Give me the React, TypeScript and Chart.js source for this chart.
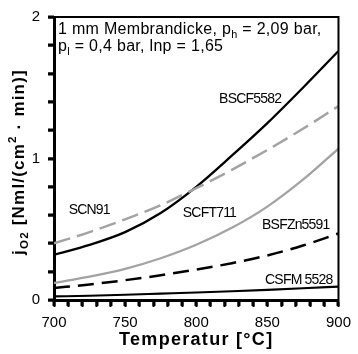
import React, { useEffect, useRef } from "react";
import { Chart, registerables } from "chart.js";
Chart.register(...registerables);

// ---- data ----
const temps = [700, 725, 750, 775, 800, 825, 850, 875, 900];
const bscf5582 = [0.32, 0.39, 0.48, 0.615, 0.8, 1.02, 1.25, 1.5, 1.76];
const scn91 = [0.40, 0.48, 0.57, 0.67, 0.79, 0.92, 1.06, 1.21, 1.37];
const scft711 = [0.12, 0.165, 0.22, 0.295, 0.39, 0.51, 0.66, 0.85, 1.07];
const bsfzn5591 = [0.085, 0.11, 0.14, 0.175, 0.215, 0.26, 0.315, 0.385, 0.47];
const csfm5528 = [0.025, 0.03, 0.037, 0.045, 0.053, 0.062, 0.072, 0.083, 0.095];

const xTickLabels = [700, 750, 800, 850, 900];
const yTickLabels = [0, 1, 2];
const xMinorStep = 10;
const yMinorStep = 0.2;

// curve label anchors (data coords, centered)
const curveLabels = [
  { text: "BSCF5582", t: 837.9, v: 1.418 },
  { text: "SCN91", t: 724.8, v: 0.632 },
  { text: "SCFT711", t: 809.3, v: 0.611 },
  { text: "BSFZn5591", t: 870.0, v: 0.526 },
  { text: "CSFM 5528", t: 872.1, v: 0.14 },
];

const FONT = "'Liberation Sans', Arial, Helvetica, sans-serif";
const GRAY = "#a3a3a3";

type Seg = { t: string; k?: "sub" | "sup" };

function drawRich(
  ctx: CanvasRenderingContext2D,
  segs: Seg[],
  x: number,
  y: number,
  size: number,
  weight: string,
  spacing: number,
  align: "left" | "center"
) {
  const setFont = (s: Seg) => {
    const sz = s.k ? size * 0.68 : size;
    ctx.font = `${weight} ${sz}px ${FONT}`;
    (ctx as any).letterSpacing = spacing + "px";
  };
  const widths = segs.map((s) => {
    setFont(s);
    return ctx.measureText(s.t).width;
  });
  const total = widths.reduce((a, b) => a + b, 0);
  let cx = align === "center" ? x - total / 2 : x;
  ctx.textAlign = "left";
  ctx.textBaseline = "middle";
  segs.forEach((s, i) => {
    setFont(s);
    const dy = s.k === "sub" ? size * 0.32 : s.k === "sup" ? -size * 0.36 : 0;
    ctx.fillText(s.t, cx, y + dy);
    cx += widths[i];
  });
}

const annotPlugin = {
  id: "annot",
  afterDraw(chart: any) {
    const { ctx, chartArea: a, scales } = chart;
    const xs = scales.x;
    const ys = scales.y;
    ctx.save();
    // top and right frame
    ctx.strokeStyle = "#000";
    ctx.lineWidth = 2;
    ctx.beginPath();
    ctx.moveTo(a.left, a.top);
    ctx.lineTo(a.right, a.top);
    ctx.lineTo(a.right, a.bottom);
    ctx.stroke();

    // minor tick marks
    ctx.fillStyle = "#000";
    for (let t = xs.min; t <= xs.max + 1e-6; t += xMinorStep) {
      const px = Math.round(xs.getPixelForValue(t));
      ctx.fillRect(px - 1.5, a.bottom, 3, 6);
    }
    for (let v = ys.min; v <= ys.max + 1e-6; v += yMinorStep) {
      const py = Math.round(ys.getPixelForValue(v));
      ctx.fillRect(a.left - 6, py - 1.5, 6, 3);
    }

    // curve labels
    curveLabels.forEach((l) => {
      ctx.font = `14px ${FONT}`;
      (ctx as any).letterSpacing = "-0.8px";
      ctx.textAlign = "center";
      ctx.textBaseline = "middle";
      ctx.fillText(l.text, xs.getPixelForValue(l.t), ys.getPixelForValue(l.v));
    });

    // info text
    drawRich(
      ctx,
      [{ t: "1 mm Membrandicke, p" }, { t: "h", k: "sub" }, { t: " = 2,09 bar," }],
      a.left + 4,
      a.top + 13,
      16,
      "normal",
      0.3,
      "left"
    );
    drawRich(
      ctx,
      [{ t: "p" }, { t: "l", k: "sub" }, { t: " = 0,4 bar, lnp = 1,65" }],
      a.left + 4,
      a.top + 30,
      16,
      "normal",
      0.3,
      "left"
    );

    // x title
    drawRich(ctx, [{ t: "Temperatur [°C]" }], (a.left + a.right) / 2, 340, 18, "bold", 1.3, "center");

    // y title
    ctx.save();
    ctx.translate(19, 162);
    ctx.rotate(-Math.PI / 2);
    drawRich(
      ctx,
      [{ t: "j" }, { t: "O2", k: "sub" }, { t: " [Nml/(cm" }, { t: "2", k: "sup" }, { t: " · min)]" }],
      0,
      0,
      17,
      "bold",
      1.2,
      "center"
    );
    ctx.restore();
    ctx.restore();
  },
};

function mk(vals: number[]) {
  return temps.map((t, i) => ({ x: t, y: vals[i] }));
}

export default function App() {
  const ref = useRef<HTMLCanvasElement>(null);
  useEffect(() => {
    document.body.style.margin = "0";
    const chart = new Chart(ref.current!, {
      type: "line",
      data: {
        datasets: [
          { label: "CSFM 5528", data: mk(csfm5528), borderColor: "#000", borderWidth: 2.2 },
          { label: "BSFZn5591", data: mk(bsfzn5591), borderColor: "#000", borderWidth: 2.5, borderDash: [16, 8] },
          { label: "SCFT711", data: mk(scft711), borderColor: GRAY, borderWidth: 2.3 },
          { label: "SCN91", data: mk(scn91), borderColor: GRAY, borderWidth: 2.5, borderDash: [17, 7] },
          { label: "BSCF5582", data: mk(bscf5582), borderColor: "#000", borderWidth: 2.3 },
        ].map((d) => ({ ...d, pointRadius: 0, fill: false, cubicInterpolationMode: "monotone" as const })),
      },
      options: {
        animation: false,
        responsive: false,
        events: [],
        layout: { padding: { top: 15, right: 14, left: 0, bottom: 0 } },
        plugins: { legend: { display: false }, tooltip: { enabled: false }, title: { display: false } },
        scales: {
          x: {
            type: "linear",
            min: 700,
            max: 900,
            ticks: {
              stepSize: 10,
              autoSkip: false,
              maxRotation: 0,
              color: "#000",
              font: { family: FONT, size: 15 },
              padding: 7,
              callback: (v: any) => {
                const n = Math.round(Number(v));
                return xTickLabels.includes(n) && Math.abs(Number(v) - n) < 1e-6 ? String(n) : "";
              },
            },
            grid: { drawOnChartArea: false, drawTicks: true, tickLength: 7, tickColor: "#000", tickWidth: 2, color: "#000" },
            border: { display: true, color: "#000", width: 3 },
            afterFit: (s: any) => {
              s.height = 54;
            },
          },
          y: {
            type: "linear",
            min: 0,
            max: 2,
            ticks: {
              stepSize: 0.2,
              autoSkip: false,
              color: "#000",
              font: { family: FONT, size: 15 },
              padding: 8,
              callback: (v: any) => {
                const n = Number(v);
                const r = Math.round(n);
                return Math.abs(n - r) < 1e-6 && yTickLabels.includes(r) ? String(r) : "";
              },
            },
            grid: { drawOnChartArea: false, drawTicks: true, tickLength: 6, tickColor: "#000", tickWidth: 2, color: "#000" },
            border: { display: true, color: "#000", width: 3 },
            afterFit: (s: any) => {
              s.width = 54;
            },
          },
        },
      } as any,
      plugins: [annotPlugin],
    });
    return () => chart.destroy();
  }, []);
  return (
    <div style={{ width: 358, height: 354, position: "relative" }}>
      <canvas ref={ref} width={358} height={354} style={{ display: "block" }} />
    </div>
  );
}
